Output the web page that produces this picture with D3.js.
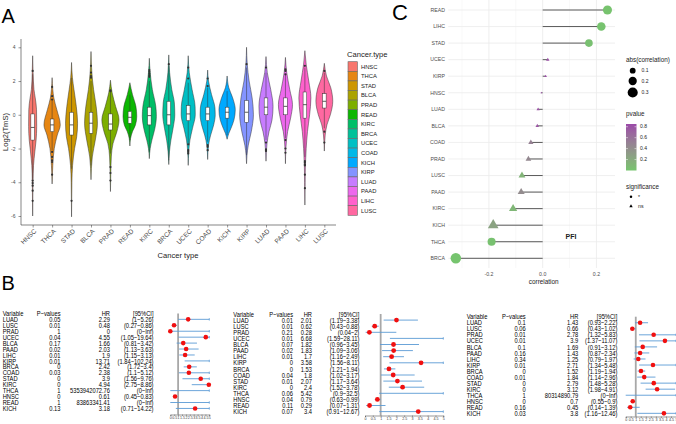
<!DOCTYPE html>
<html>
<head>
<meta charset="utf-8">
<title>TmS across cancer types</title>
<script src="https://cdnjs.cloudflare.com/ajax/libs/d3/7.8.5/d3.min.js"></script>
<style>
  body { margin: 0; background: #fff; }
  svg { display: block; font-family: "Liberation Sans", Arial, sans-serif; }
</style>
</head>
<body>
<div id="chart"></div>
<script>
// ---------- panel A : violins ----------
var cancerTypes = ["HNSC", "THCA", "STAD", "BLCA", "PRAD", "READ", "KIRC", "BRCA", "UCEC", "COAD", "KICH", "KIRP", "LUAD", "PAAD", "LIHC", "LUSC"];
var typeColors = ["#F8766D", "#E68613", "#CD9600", "#ABA300", "#7CAE00", "#0CB702", "#00BE67", "#00C19A", "#00BFC4", "#00B8E7", "#00A9FF", "#8494FF", "#C77CFF", "#ED68ED", "#FF61CC", "#FF68A1"];
// outline of each violin: [log2(TmS), relative density]
var violinProfiles = [
  [[3.5, 0], [2.5, 0.05], [1.5, 0.15], [1, 0.3], [0.3, 0.45], [-0.7, 0.47], [-1.5, 0.4], [-2.2, 0.25], [-3, 0.1], [-4, 0.04], [-5, 0.02], [-6, 0]],
  [[2.2, 0], [1.5, 0.08], [1, 0.2], [0.3, 0.55], [-0.6, 0.95], [-1.2, 0.6], [-2, 0.25], [-3, 0.08], [-4.1, 0]],
  [[3.1, 0], [2.2, 0.1], [1.5, 0.28], [0.5, 0.55], [-0.5, 0.7], [-1.3, 0.6], [-2, 0.35], [-3, 0.12], [-4, 0.04], [-6.05, 0]],
  [[3.75, 0], [2.5, 0.1], [1.5, 0.3], [0.5, 0.6], [-0.5, 0.75], [-1.5, 0.5], [-2.5, 0.15], [-3.85, 0]],
  [[2.05, 0], [1.3, 0.2], [0.5, 0.6], [-0.3, 1], [-1, 0.75], [-1.7, 0.3], [-2.5, 0.1], [-3.5, 0.04], [-4.55, 0]],
  [[1.9, 0], [1.2, 0.3], [0.5, 0.7], [-0.1, 0.8], [-0.6, 0.65], [-1, 0.3], [-1.4, 0.08], [-1.85, 0]],
  [[3.35, 0], [2.5, 0.1], [1.5, 0.35], [0.5, 0.75], [-0.1, 0.82], [-0.8, 0.65], [-1.5, 0.3], [-2, 0.1], [-2.6, 0]],
  [[3.55, 0], [2.5, 0.1], [1.5, 0.35], [0.7, 0.65], [0, 0.7], [-0.8, 0.5], [-1.5, 0.25], [-2.2, 0.08], [-2.95, 0]],
  [[3.5, 0], [2.5, 0.12], [1.5, 0.45], [0.5, 0.8], [0, 0.82], [-0.8, 0.5], [-1.5, 0.2], [-2.2, 0.06], [-3, 0]],
  [[2.65, 0], [2, 0.1], [1.2, 0.45], [0.4, 0.85], [0, 0.88], [-0.6, 0.7], [-1.2, 0.35], [-1.8, 0.1], [-2.65, 0]],
  [[2.3, 0], [1.6, 0.2], [1, 0.65], [0.3, 0.95], [-0.3, 0.8], [-0.8, 0.45], [-1.1, 0.2], [-1.45, 0]],
  [[4, 0], [3, 0.08], [2, 0.3], [1, 0.65], [0, 0.8], [-1, 0.55], [-1.8, 0.2], [-2.4, 0.05], [-2.9, 0]],
  [[3.45, 0], [2.5, 0.15], [1.5, 0.55], [0.5, 0.82], [-0.3, 0.7], [-1, 0.35], [-1.7, 0.12], [-2.75, 0]],
  [[3.4, 0], [2.5, 0.15], [1.5, 0.5], [0.6, 0.82], [-0.2, 0.6], [-1, 0.25], [-2, 0.05], [-2.9, 0]],
  [[3.8, 0], [3, 0.15], [2, 0.45], [1, 0.7], [0, 0.55], [-1, 0.3], [-2, 0.15], [-3, 0.06], [-4, 0.03], [-5.35, 0]],
  [[3.05, 0], [2.3, 0.25], [1.6, 0.75], [0.8, 0.98], [0, 0.7], [-0.6, 0.3], [-1.2, 0.1], [-2.15, 0]]
];
var boxQ1 = [-1.5, -1.0, -1.2, -1.1, -0.9, -0.5, -0.6, -0.6, -0.35, -0.35, -0.2, -0.45, 0.0, 0.0, -0.2, 0.4];
var boxMedian = [-0.75, -0.6, -0.6, -0.5, -0.55, -0.15, -0.05, 0.0, 0.05, 0.05, 0.15, 0.15, 0.45, 0.5, 0.6, 0.8];
var boxQ3 = [0.05, -0.25, 0.15, 0.15, 0.05, 0.2, 0.45, 0.8, 0.55, 0.45, 0.45, 0.85, 1.0, 1.0, 1.35, 1.25];
var whiskerLow = [-3.8, -2.1, -3.2, -3.0, -2.3, -1.5, -2.2, -2.7, -1.7, -1.6, -1.2, -2.4, -1.5, -1.4, -2.5, -0.8];
var whiskerHigh = [2.4, 0.85, 2.2, 2.0, 1.4, 1.2, 2.0, 2.9, 1.9, 1.6, 1.4, 2.8, 2.5, 2.4, 2.8, 2.5];
var outliers = [
  [2.6, -3.9, -4.05, -4.2, -4.5, -5.1],
  [1.65, 1.1, 0.9, -2.2, -2.5, -2.7, -2.8, -3.55],
  [-5.1],
  [2.9, 2.5, 2.3, 2.2],
  [1.45, 1.4, -3.1, -3.45, -3.9],
  [],
  [2.65, 2.55, 2.45, 2.35, 2.25],
  [3.0],
  [2.8, 2.15, -1.75, -2.1, -2.2, -2.3],
  [2.15, 1.7, -1.8, -1.9, -2.1],
  [],
  [3.0],
  [2.8, -1.65, -2.05, -2.1, -2.15],
  [2.7, 2.6, 2.4, -1.5, -2.0, -2.25],
  [2.9, -2.75, -2.85, -2.95, -3.0, -3.55, -4.35],
  [2.6, -1.0, -1.65]
];
var yTicksA = [-6, -4, -2, 0, 2, 4];

// ---------- panel C : correlation lollipop ----------
var corTypes = ["READ", "LIHC", "STAD", "UCEC", "KIRP", "HNSC", "LUAD", "BLCA", "COAD", "PRAD", "LUSC", "PAAD", "KIRC", "KICH", "THCA", "BRCA"];
var corValues = [0.241, 0.218, 0.172, 0.019, 0.011, -0.005, -0.017, -0.020, -0.044, -0.053, -0.077, -0.080, -0.110, -0.184, -0.190, -0.323];
var corPvalues = [0.005, 0.01, 0.03, 0.82, 0.85, 0.84, 0.8, 0.78, 0.5, 0.45, 0.12, 0.42, 0.1, 0.25, 0.02, 0.0001];
var corSignif = ["*", "*", "*", "ns", "ns", "ns", "ns", "ns", "ns", "ns", "ns", "ns", "ns", "ns", "*", "*"];
var corTicks = [-0.2, 0, 0.2];
var corMinorTicks = [-0.3, -0.1, 0.1];
var sizeLegendValues = [0.1, 0.2, 0.3];
var pvalueLegendTicks = [0.2, 0.4, 0.6, 0.8];
var signifLevels = ["*", "ns"];

// ---------- panel B : three Cox forest tables ----------
var forestVars = ["LUAD", "LUSC", "PRAD", "UCEC", "BLCA", "PAAD", "LIHC", "KIRP", "BRCA", "COAD", "STAD", "KIRC", "THCA", "HNSC", "READ", "KICH"];
var forest1P = [0.05, 0.01, 1, 0.04, 0.17, 0.02, 0.01, 0.01, 0, 0.03, 0, 0, 1, 0, 1, 0.13];
var forest1HR = [2.29, 0.48, 0, 4.55, 1.66, 2.03, 1.9, 13.71, 2.42, 2.38, 3.9, 4.94, 5353942072.76, 0.61, 83863341.41, 3.18];
var forest1Low = [1, 0.27, 0, 1.05, 0.81, 1.13, 1.15, 1.84, 1.72, 1.1, 1.56, 2.75, 0, 0.45, 0, 0.71];
var forest1High = [5.26, 0.86, Infinity, 19.64, 3.42, 3.63, 3.13, 102.24, 3.4, 5.12, 9.76, 8.86, Infinity, 0.83, Infinity, 14.22];
var forest2P = [0.01, 0.01, 0.21, 0.01, 0.07, 0.02, 0.01, 0, 0, 0.04, 0.01, 0, 0.06, 0.04, 0.11, 0.07];
var forest2HR = [2.01, 0.62, 0.28, 6.68, 1.82, 1.83, 1.7, 3.58, 1.53, 1.8, 2.07, 2.4, 5.42, 0.79, 0.29, 3.4];
var forest2Low = [1.19, 0.43, 0.04, 1.59, 0.96, 1.09, 1.16, 1.56, 1.21, 1.02, 1.17, 1.52, 0.9, 0.63, 0.07, 0.91];
var forest2High = [3.38, 0.88, 2, 28.11, 3.45, 3.06, 2.49, 8.11, 1.94, 3.17, 3.64, 3.78, 32.5, 0.99, 1.31, 12.67];
var forest3P = [0.1, 0.06, 0.01, 0.01, 0.1, 0.16, 0.34, 0.01, 0, 0.01, 0, 0, 1, 0, 0.16, 0.03];
var forest3HR = [1.43, 0.66, 2.78, 3.9, 1.69, 1.43, 1.25, 2.71, 1.52, 1.84, 2.79, 3.12, 80314890.79, 0.7, 0.45, 3.8];
var forest3Low = [0.93, 0.43, 1.32, 1.37, 0.91, 0.87, 0.79, 1.34, 1.19, 1.14, 1.48, 1.98, 0, 0.55, 0.14, 1.16];
var forest3High = [2.22, 1.02, 5.83, 11.07, 3.12, 2.34, 1.97, 5.48, 1.94, 2.96, 5.28, 4.91, Infinity, 0.9, 1.39, 12.46];
var forestTicks = [0, 0.5, 1, 1.5, 2, 2.5, 3, 3.5, 4, 4.5, 5];

var svg = d3.select("#chart").append("svg")
  .attr("width", 676)
  .attr("height", 424);
svg.append("rect").attr("width", 676).attr("height", 424).attr("fill", "#fff");

// panel letters
[["A", 1.5, 23], ["B", 1.5, 290], ["C", 392, 20]].forEach(function (l) {
  svg.append("text").attr("x", l[1]).attr("y", l[2])
    .attr("font-size", l[0] == "C" ? 22 : 20).attr("fill", "#000").text(l[0]);
});

// ================= A =================
var xA = d3.scalePoint().domain(cancerTypes).range([21, 336]).padding(0.6);
var yA = d3.scaleLinear().domain([-6, 4]).range([216, 47.3]);
var wA = d3.scaleLinear().domain([0, 1]).range([0, 8.6]);
var colA = d3.scaleOrdinal().domain(cancerTypes).range(typeColors);

var gA = svg.append("g");

var violinArea = d3.area()
  .y(function (d) { return yA(d[0]); })
  .x0(function (d) { return -wA(d[1]); })
  .x1(function (d) { return wA(d[1]); })
  .curve(d3.curveMonotoneY);

cancerTypes.forEach(function (t, i) {
  var g = gA.append("g").attr("transform", "translate(" + xA(t) + ",0)");
  g.append("path")
    .datum(violinProfiles[i])
    .attr("d", violinArea)
    .attr("fill", colA(t))
    .attr("stroke", "#333")
    .attr("stroke-width", 0.5);
  g.append("line")
    .attr("x1", 0).attr("x2", 0)
    .attr("y1", yA(whiskerHigh[i])).attr("y2", yA(whiskerLow[i]))
    .attr("stroke", "#333").attr("stroke-width", 0.5);
  g.append("rect")
    .attr("x", -1.8).attr("width", 3.6)
    .attr("y", yA(boxQ3[i]))
    .attr("height", yA(boxQ1[i]) - yA(boxQ3[i]))
    .attr("fill", "#fff").attr("stroke", "#333").attr("stroke-width", 0.5);
  g.append("line")
    .attr("x1", -1.8).attr("x2", 1.8)
    .attr("y1", yA(boxMedian[i])).attr("y2", yA(boxMedian[i]))
    .attr("stroke", "#333").attr("stroke-width", 0.8);
  g.selectAll("circle").data(outliers[i]).enter().append("circle")
    .attr("cx", 0).attr("cy", function (d) { return yA(d); })
    .attr("r", 1.1).attr("fill", "#333");
});

// axes A
var axA = gA.append("g").attr("transform", "translate(21,0)")
  .call(d3.axisLeft(yA).tickValues(yTicksA).tickSize(2.5).tickFormat(function (d) { return String(d); }));
axA.select(".domain").remove();
axA.selectAll("text").attr("font-size", 5).attr("fill", "#4D4D4D").attr("font-family", null);
axA.selectAll(".tick line").attr("stroke", "#333").attr("stroke-width", 0.5);
gA.append("line").attr("x1", 21).attr("x2", 21).attr("y1", 39).attr("y2", 225)
  .attr("stroke", "#333").attr("stroke-width", 0.6);

var axAx = gA.append("g").attr("transform", "translate(0,225)")
  .call(d3.axisBottom(xA).tickSize(2.5).tickFormat(""));
axAx.select(".domain").remove();
axAx.selectAll(".tick line").attr("stroke", "#333").attr("stroke-width", 0.5);
gA.append("line").attr("x1", 21).attr("x2", 336).attr("y1", 225).attr("y2", 225)
  .attr("stroke", "#333").attr("stroke-width", 0.6);
gA.selectAll(".xlab").data(cancerTypes).enter().append("text")
  .attr("class", "xlab")
  .attr("transform", function (d) { return "translate(" + (xA(d) + 2.5) + ",230) rotate(-45)"; })
  .attr("text-anchor", "end")
  .attr("dy", "0.35em")
  .attr("font-size", 6.6)
  .attr("fill", "#4D4D4D")
  .text(function (d) { return d; });

gA.append("text").attr("x", 178).attr("y", 258)
  .attr("text-anchor", "middle").attr("font-size", 7.6).attr("fill", "#222").text("Cancer type");
gA.append("text").attr("transform", "translate(7.5,132) rotate(-90)")
  .attr("text-anchor", "middle").attr("font-size", 7.6).attr("fill", "#222").text("Log2(TmS)");

// legend A
var legA = gA.append("g");
legA.append("text").attr("x", 347).attr("y", 56.5).attr("font-size", 7.6).attr("fill", "#222").text("Cancer.type");
legA.selectAll("rect").data(cancerTypes).enter().append("rect")
  .attr("x", 348).attr("y", function (d, i) { return 61.7 + i * 9.6; })
  .attr("width", 9.4).attr("height", 9.6)
  .attr("fill", function (d) { return colA(d); })
  .attr("stroke", "#666").attr("stroke-width", 0.6);
legA.selectAll(".ltxt").data(cancerTypes).enter().append("text")
  .attr("class", "ltxt")
  .attr("x", 361).attr("y", function (d, i) { return 66.5 + i * 9.6; })
  .attr("dy", "0.35em").attr("font-size", 5.8).attr("fill", "#222")
  .text(function (d) { return d; });

// ================= C =================
var yC = d3.scalePoint().domain(corTypes).range([10, 258.3]);
var xC = d3.scaleLinear().domain([-0.351, 0.269]).range([448.3, 615]);
var rC = d3.scaleSqrt().domain([0, 0.33]).range([0, 5.3]);
var colC = d3.scaleLinear().domain([0, 0.85]).range(["#76C46E", "#9B4AA8"]).interpolate(d3.interpolateLab);
var symC = function (sig, v) {
  var r = rC(Math.abs(v));
  return d3.symbol().type(sig == "*" ? d3.symbolCircle : d3.symbolTriangle).size(Math.PI * r * r)();
};

var gC = svg.append("g");
gC.selectAll(".minor").data(corMinorTicks).enter().append("line")
  .attr("x1", function (d) { return xC(d); }).attr("x2", function (d) { return xC(d); })
  .attr("y1", 0).attr("y2", 268).attr("stroke", "#F2F2F2").attr("stroke-width", 0.5);
gC.selectAll(".major").data(corTicks).enter().append("line")
  .attr("x1", function (d) { return xC(d); }).attr("x2", function (d) { return xC(d); })
  .attr("y1", 0).attr("y2", 268).attr("stroke", "#EBEBEB").attr("stroke-width", 0.8);
gC.selectAll(".hgrid").data(corTypes).enter().append("line")
  .attr("x1", 448.3).attr("x2", 615)
  .attr("y1", function (d) { return yC(d); }).attr("y2", function (d) { return yC(d); })
  .attr("stroke", "#EBEBEB").attr("stroke-width", 0.8);

gC.selectAll(".seg").data(corTypes).enter().append("line")
  .attr("x1", xC(0)).attr("x2", function (d, i) { return xC(corValues[i]); })
  .attr("y1", function (d) { return yC(d); }).attr("y2", function (d) { return yC(d); })
  .attr("stroke", "#5A5A5A").attr("stroke-width", 1);
gC.selectAll(".pt").data(corTypes).enter().append("path")
  .attr("transform", function (d, i) { return "translate(" + xC(corValues[i]) + "," + yC(d) + ")"; })
  .attr("d", function (d, i) { return symC(corSignif[i], corValues[i]); })
  .attr("fill", function (d, i) { return colC(corPvalues[i]); });

gC.selectAll(".ylab").data(corTypes).enter().append("text")
  .attr("x", 445).attr("y", function (d) { return yC(d); })
  .attr("dy", "0.35em").attr("text-anchor", "end")
  .attr("font-size", 5.2).attr("fill", "#4D4D4D").text(function (d) { return d; });
gC.selectAll(".xtick").data(corTicks).enter().append("text")
  .attr("x", function (d) { return xC(d); }).attr("y", 274)
  .attr("dy", "0.35em").attr("text-anchor", "middle")
  .attr("font-size", 5.2).attr("fill", "#4D4D4D").text(function (d) { return d.toFixed(1); });
gC.append("text").attr("x", xC(0) + 1).attr("y", 281.5).attr("dy", "0.35em")
  .attr("text-anchor", "middle").attr("font-size", 6.4).attr("fill", "#222").text("correlation");
gC.append("text").attr("x", 571).attr("y", 237).attr("dy", "0.35em")
  .attr("text-anchor", "middle").attr("font-size", 7).attr("font-weight", "bold").attr("fill", "#222").text("PFI");

// legends C
var legC = gC.append("g");
legC.append("text").attr("x", 626).attr("y", 60).attr("dy", "0.35em")
  .attr("font-size", 6.3).attr("fill", "#222").text("abs(correlation)");
sizeLegendValues.forEach(function (v, i) {
  var y = [70.7, 81, 92.5][i];
  legC.append("path").attr("transform", "translate(632.7," + y + ")")
    .attr("d", symC("*", v)).attr("fill", "#000");
  legC.append("text").attr("x", 641.5).attr("y", y).attr("dy", "0.35em")
    .attr("font-size", 5).attr("fill", "#222").text(v.toFixed(1));
});

legC.append("text").attr("x", 626).attr("y", 113.5).attr("dy", "0.35em")
  .attr("font-size", 6.3).attr("fill", "#222").text("pvalue");
var grad = svg.append("defs").append("linearGradient").attr("id", "pgrad")
  .attr("x1", 0).attr("x2", 0).attr("y1", 1).attr("y2", 0);
d3.range(0, 1.0001, 0.1).forEach(function (f) {
  grad.append("stop").attr("offset", f).attr("stop-color", colC(f * 0.85));
});
var yP = d3.scaleLinear().domain([0, 0.85]).range([170.5, 124]);
legC.append("rect").attr("x", 626).attr("y", 124).attr("width", 10.5).attr("height", 46.5)
  .attr("fill", "url(#pgrad)");
pvalueLegendTicks.forEach(function (v) {
  legC.append("line").attr("x1", 626).attr("x2", 628).attr("y1", yP(v)).attr("y2", yP(v)).attr("stroke", "#fff").attr("stroke-width", 0.5);
  legC.append("line").attr("x1", 634.5).attr("x2", 636.5).attr("y1", yP(v)).attr("y2", yP(v)).attr("stroke", "#fff").attr("stroke-width", 0.5);
  legC.append("text").attr("x", 640).attr("y", yP(v)).attr("dy", "0.35em")
    .attr("font-size", 5).attr("fill", "#222").text(v.toFixed(1));
});

legC.append("text").attr("x", 626).attr("y", 186.5).attr("dy", "0.35em")
  .attr("font-size", 6.3).attr("fill", "#222").text("significance");
signifLevels.forEach(function (s, i) {
  var y = 196.7 + i * 9.5;
  legC.append("path").attr("transform", "translate(631," + y + ")")
    .attr("d", d3.symbol().type(s == "*" ? d3.symbolCircle : d3.symbolTriangle).size(5)())
    .attr("fill", "#000");
  legC.append("text").attr("x", 638).attr("y", y).attr("dy", "0.35em")
    .attr("font-size", 5.2).attr("fill", "#222").text(s);
});

// ================= B =================
function fmtCI(lo, hi) {
  var f = function (v) { return v === Infinity ? "Inf" : String(v); };
  return "(" + f(lo) + "\u2212" + f(hi) + ")";
}

function drawForest(o) {
  var g = svg.append("g");
  var rowY = function (i) { return o.headerY + (i + 1) * o.step; };
  var cell = function (x, y, txt, anchor) {
    g.append("text")
      .attr("transform", "translate(" + x + "," + y + ") scale(0.8,1)")
      .attr("dy", "0.36em")
      .attr("text-anchor", anchor)
      .attr("font-size", 7.2)
      .attr("fill", "#000")
      .text(txt);
  };
  cell(o.varX, o.headerY, "Variable", "start");
  cell(o.pX, o.headerY, "P\u2212values", "end");
  cell(o.hrX, o.headerY, "HR", "end");
  cell(o.ciX, o.headerY, "[95%CI]", "end");
  forestVars.forEach(function (v, i) {
    var y = rowY(i);
    cell(o.varX, y, v, "start");
    cell(o.pX, y, String(o.p[i]), "end");
    cell(o.hrX, y, String(o.hr[i]), "end");
    cell(o.ciX, y, fmtCI(o.lo[i], o.hi[i]), "end");
  });

  var x = d3.scaleLinear().domain([0, 5]).range([o.x0, o.x1]);
  // reference line at HR = 1
  g.append("line").attr("x1", x(1)).attr("x2", x(1))
    .attr("y1", o.headerY).attr("y2", o.axisY)
    .attr("stroke", "#A8A8A8").attr("stroke-width", 1.8);
  forestVars.forEach(function (v, i) {
    var y = rowY(i);
    var a = Math.max(o.lo[i], 0), b = Math.min(o.hi[i], 5);
    g.append("line").attr("x1", x(a)).attr("x2", x(b)).attr("y1", y).attr("y2", y)
      .attr("stroke", "#5B9BD5").attr("stroke-width", 0.9);
    if (o.hi[i] > 5) {
      g.append("line").attr("x1", x(5)).attr("x2", x(5)).attr("y1", y - 1.2).attr("y2", y + 1.2)
        .attr("stroke", "#5B9BD5").attr("stroke-width", 0.8);
    }
    if (o.hr[i] <= 5) {
      g.append("circle").attr("cx", x(o.hr[i])).attr("cy", y).attr("r", o.r)
        .attr("fill", "#F01010");
    }
  });
  var ax = g.append("g").attr("transform", "translate(0," + o.axisY + ")")
    .call(d3.axisBottom(x).tickValues(forestTicks).tickSize(1.5).tickPadding(0.8)
      .tickFormat(function (d) { return String(d); }));
  ax.select(".domain").attr("stroke", "#333").attr("stroke-width", 0.5);
  ax.selectAll(".tick line").attr("stroke", "#333").attr("stroke-width", 0.4);
  ax.selectAll("text").attr("font-size", 3.6).attr("fill", "#333").attr("font-family", null);
}

drawForest({ p: forest1P, hr: forest1HR, lo: forest1Low, hi: forest1High,
  headerY: 313.4, step: 5.94, varX: 2.7, pX: 60.5, hrX: 110, ciX: 153.5,
  x0: 170.3, x1: 209.3, axisY: 414.5, r: 2.3 });
drawForest({ p: forest2P, hr: forest2HR, lo: forest2Low, hi: forest2High,
  headerY: 314, step: 6.1, varX: 233.3, pX: 293, hrX: 312, ciX: 359.3,
  x0: 365, x1: 443.3, axisY: 415.5, r: 2.4 });
drawForest({ p: forest3P, hr: forest3HR, lo: forest3Low, hi: forest3High,
  headerY: 316.7, step: 6.04, varX: 466.7, pX: 525.7, hrX: 578.3, ciX: 617.3,
  x0: 625.7, x1: 676, axisY: 416.5, r: 2.3 });
</script>
</body>
</html>
